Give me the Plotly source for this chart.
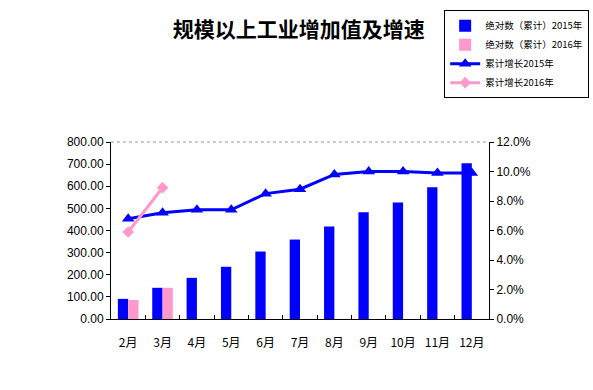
import plotly.graph_objects as go

months = ["2月", "3月", "4月", "5月", "6月", "7月", "8月", "9月", "10月", "11月", "12月"]
abs_2015 = [91, 141, 186, 236, 305, 359, 418, 482, 527, 595, 704]
abs_2016 = [86, 141]
growth_2015 = [6.8, 7.2, 7.4, 7.4, 8.5, 8.8, 9.8, 10.0, 10.0, 9.9, 9.9]
growth_2016 = [5.9, 8.9]

left_ticks = [0, 100, 200, 300, 400, 500, 600, 700, 800]
right_ticks = [0, 2, 4, 6, 8, 10, 12]

BLUE = "#0000FF"
PINK = "#FF99CC"

fig = go.Figure()
fig.add_trace(go.Bar(x=months, y=abs_2015, name="绝对数（累计）2015年",
                     marker=dict(color=BLUE, line=dict(width=0))))
fig.add_trace(go.Bar(x=months[:len(abs_2016)], y=abs_2016, name="绝对数（累计）2016年",
                     marker=dict(color=PINK, line=dict(width=0))))
fig.add_trace(go.Scatter(x=months, y=growth_2015, name="累计增长2015年", yaxis="y2",
                         mode="lines+markers", cliponaxis=False,
                         line=dict(color=BLUE, width=3),
                         marker=dict(symbol="triangle-up", size=11, color=BLUE)))
fig.add_trace(go.Scatter(x=months[:len(growth_2016)], y=growth_2016, name="累计增长2016年", yaxis="y2",
                         mode="lines+markers", cliponaxis=False,
                         line=dict(color=PINK, width=3),
                         marker=dict(symbol="diamond", size=9, color=PINK)))

fig.update_layout(
    width=593, height=390,
    margin=dict(l=111, r=104, t=142, b=71, pad=0, autoexpand=False),
    paper_bgcolor="white", plot_bgcolor="white",
    barmode="group", bargap=0.4, bargroupgap=0,
    font=dict(family="Arial, Liberation Sans, Noto Sans CJK SC", size=12, color="black"),
    title=dict(text="<b>规模以上工业增加值及增速</b>", x=0.497, xref="paper", xanchor="center",
               y=0.925, yref="container", yanchor="middle",
               font=dict(family="Noto Sans CJK SC", size=21, color="black")),
    xaxis=dict(range=[-0.5, len(months) - 0.5], autorange=False,
               showline=True, linecolor="black", linewidth=1, ticks="inside",
               ticklen=4, tickcolor="black", tickson="boundaries", tickangle=0,
               ticklabelstandoff=13, automargin=False,
               tickfont=dict(size=12, family="Noto Sans CJK SC, Arial"),
               mirror=False, showgrid=False),
    yaxis=dict(range=[0, 800], tickvals=left_ticks, automargin=False,
               ticktext=[f"{v:.2f}" for v in left_ticks],
               showline=True, linecolor="black", linewidth=1, ticks="outside",
               ticklen=4, tickcolor="black", showgrid=False, zeroline=False,
               tickfont=dict(size=12)),
    yaxis2=dict(range=[0, 12], tickvals=right_ticks, automargin=False,
                ticktext=[f"{v:.1f}%" for v in right_ticks],
                overlaying="y", side="right",
                showline=True, linecolor="black", linewidth=1, ticks="outside",
                ticklen=4, tickcolor="black", showgrid=False, zeroline=False,
                tickfont=dict(size=12)),
    legend=dict(x=0.749, y=0.974, xref="container", yref="container",
                xanchor="left", yanchor="top",
                bordercolor="black", borderwidth=1, bgcolor="white",
                font=dict(size=9.5, family="Noto Sans CJK SC"),
                tracegroupgap=0, itemwidth=30),
    shapes=[dict(type="line", xref="paper", yref="paper", x0=0, x1=1, y0=1, y1=1,
                 line=dict(color="#999999", width=1, dash="dot"))],
)

fig.write_html("out.html", config={"displayModeBar": False},
               post_script="document.body.style.margin='0';document.body.style.padding='0';")
